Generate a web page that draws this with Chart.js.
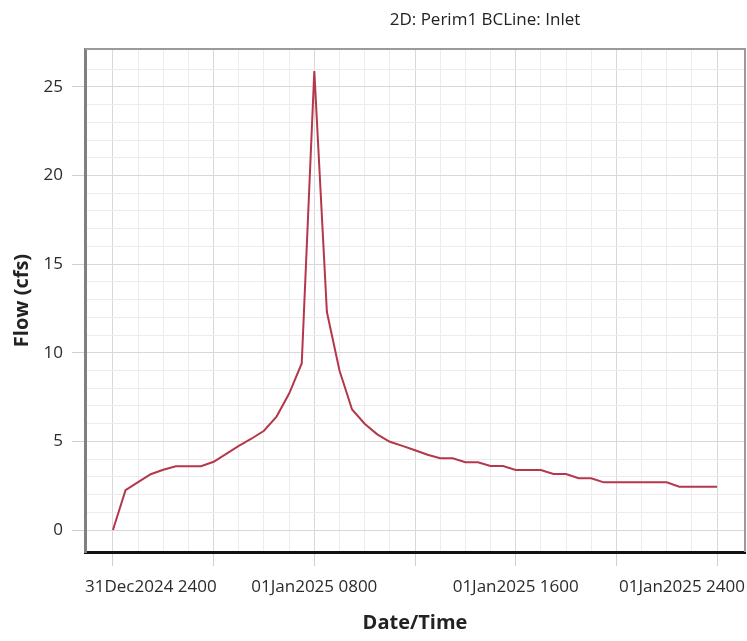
<!DOCTYPE html>
<html>
<head>
<meta charset="utf-8">
<title>2D: Perim1 BCLine: Inlet</title>
<script src="https://cdn.jsdelivr.net/npm/chart.js@4.4.3/dist/chart.umd.min.js"></script>
<style>
    html, body { margin: 0; padding: 0; background: #fff; overflow: hidden; }
    #wrap { position: relative; width: 747px; height: 641px; }
    #titulo {
        position: absolute; top: 7px; left: 485px; transform: translateX(-50%);
        font: 17px "Open Sans", sans-serif; line-height: 24px; color: #222; white-space: nowrap;
    }
</style>
</head>
<body>
<div id="wrap">
    <div id="titulo">2D: Perim1 BCLine: Inlet</div>
    <canvas id="flowChart" width="747" height="641"></canvas>
</div>
<script>
// Horas desde 31Dec2024 2400 (pasos de 30 min)
const hours = [
    0, 0.5, 1, 1.5, 2, 2.5, 3, 3.5, 4, 4.5, 5, 5.5, 6, 6.5, 7, 7.5,
    8, 8.5, 9, 9.5, 10, 10.5, 11, 11.5, 12, 12.5, 13, 13.5, 14, 14.5, 15, 15.5,
    16, 16.5, 17, 17.5, 18, 18.5, 19, 19.5, 20, 20.5, 21, 21.5, 22, 22.5, 23, 23.5, 24
];
// Caudal (cfs)
const flow = [
    0, 2.25, 2.7, 3.15, 3.4, 3.6, 3.6, 3.6, 3.85, 4.3, 4.75, 5.15, 5.6, 6.4, 7.7, 9.4,
    25.9, 12.3, 9.0, 6.8, 6.0, 5.4, 4.98, 4.75, 4.5, 4.25, 4.05, 4.05, 3.82, 3.82, 3.61, 3.61,
    3.39, 3.39, 3.39, 3.16, 3.16, 2.92, 2.92, 2.69, 2.69, 2.69, 2.69, 2.69, 2.69, 2.44, 2.44, 2.44, 2.44
];
const xTickHours = [0, 8, 16, 24];
const xTickLabels = ['31Dec2024 2400', '01Jan2025 0800', '01Jan2025 1600', '01Jan2025 2400'];
const yTickValues = [0, 5, 10, 15, 20, 25];

const X_MIN = -1.11, X_MAX = 25.11;
const Y_MIN = -1.24, Y_MAX = 27.14;

Chart.defaults.font.family = '"Open Sans", sans-serif';
Chart.defaults.color = '#2b2b2b';

// Marco superior y derecho del área de trazado
const framePlugin = {
    id: 'frame',
    beforeDatasetsDraw(chart) {
        const { ctx, chartArea: a } = chart;
        ctx.save();
        ctx.strokeStyle = '#9a9a9a';
        ctx.lineWidth = 2;
        ctx.beginPath();
        ctx.moveTo(a.left, a.top);
        ctx.lineTo(a.right, a.top);
        ctx.lineTo(a.right, a.bottom);
        ctx.stroke();
        ctx.restore();
    }
};

const puntos = hours.map((h, i) => ({ x: h, y: flow[i] }));

new Chart(document.getElementById('flowChart'), {
    type: 'line',
    data: {
        datasets: [{
            label: 'Flow',
            data: puntos,
            borderColor: '#b5374b',
            borderWidth: 2,
            pointRadius: 0,
            tension: 0,
            fill: false
        }]
    },
    options: {
        responsive: false,
        animation: false,
        layout: { padding: { top: 49, right: 2, left: 0, bottom: 0 } },
        plugins: {
            legend: { display: false },
            tooltip: { enabled: false }
        },
        scales: {
            x: {
                type: 'linear',
                min: X_MIN,
                max: X_MAX,
                afterBuildTicks: (scale) => {
                    const t = [{ value: X_MIN }];
                    for (let h = 0; h <= 24; h++) t.push({ value: h });
                    t.push({ value: X_MAX });
                    scale.ticks = t;
                },
                afterFit: (scale) => {
                    scale.height = 89;
                    scale.paddingLeft = 0;
                    scale.paddingRight = 0;
                },
                ticks: {
                    autoSkip: false,
                    maxRotation: 0,
                    minRotation: 0,
                    align: 'inner',
                    padding: 11,
                    font: { size: 17 },
                    callback: function (value, index, ticks) {
                        const last = xTickLabels.length - 1;
                        if (index === 0) return xTickLabels[0];
                        if (index === ticks.length - 1) return xTickLabels[last];
                        const k = xTickHours.indexOf(value);
                        return (k > 0 && k < last) ? xTickLabels[k] : '';
                    }
                },
                grid: {
                    color: (ctx) => {
                        const v = ctx.tick ? ctx.tick.value : 0;
                        if (v === X_MIN || v === X_MAX) return 'rgba(0,0,0,0)';
                        return v % 4 === 0 ? '#d8d8d8' : '#ececec';
                    },
                    tickColor: (ctx) => {
                        const v = ctx.tick ? ctx.tick.value : 0;
                        return (v % 4 === 0 && v >= 0 && v <= 24) ? '#cfcfcf' : 'rgba(0,0,0,0)';
                    },
                    tickLength: 14,
                    lineWidth: 1
                },
                border: { color: '#111', width: 3 },
                title: {
                    display: true,
                    text: 'Date/Time',
                    color: '#222',
                    font: { size: 20, weight: 'bold' },
                    padding: { top: 0, bottom: 6 }
                }
            },
            y: {
                min: Y_MIN,
                max: Y_MAX,
                afterBuildTicks: (scale) => {
                    const t = [];
                    for (let v = 0; v <= 26; v++) t.push({ value: v });
                    scale.ticks = t;
                },
                afterFit: (scale) => { scale.width = 85; },
                ticks: {
                    autoSkip: false,
                    padding: 9,
                    font: { size: 17 },
                    callback: (value) => yTickValues.includes(value) ? String(value) : ''
                },
                grid: {
                    color: (ctx) => {
                        const v = ctx.tick ? ctx.tick.value : 0;
                        return v % 5 === 0 ? '#d8d8d8' : '#ececec';
                    },
                    tickColor: (ctx) => {
                        const v = ctx.tick ? ctx.tick.value : 0;
                        return v % 5 === 0 ? '#cfcfcf' : 'rgba(0,0,0,0)';
                    },
                    tickLength: 13,
                    lineWidth: 1
                },
                border: { color: '#808080', width: 3 },
                title: {
                    display: true,
                    text: 'Flow (cfs)',
                    color: '#222',
                    font: { size: 20, weight: 'bold' },
                    padding: { top: 10, bottom: 0 }
                }
            }
        }
    },
    plugins: [framePlugin]
});
</script>
</body>
</html>
